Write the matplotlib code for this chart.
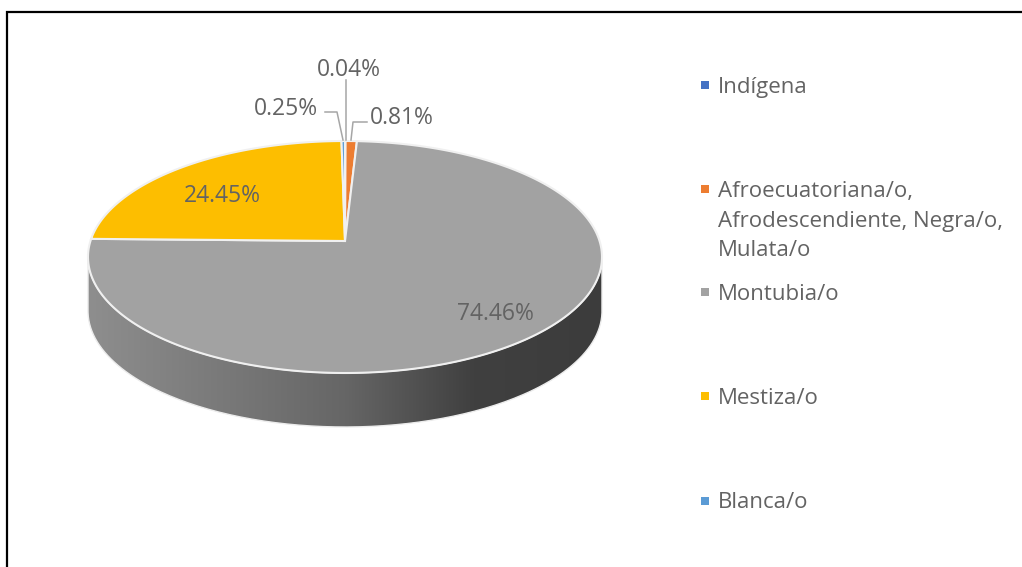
import numpy as np
import matplotlib
matplotlib.use('Agg')
import matplotlib.pyplot as plt
from matplotlib.colors import LinearSegmentedColormap
from matplotlib.path import Path
from matplotlib.patches import PathPatch

plt.rcParams['font.family'] = ['Open Sans', 'DejaVu Sans']

categories = ['Indígena', 'Afroecuatoriana/o,\nAfrodescendiente, Negra/o,\nMulata/o',
              'Montubia/o', 'Mestiza/o', 'Blanca/o']
values = [0.04, 0.81, 74.46, 24.45, 0.25]
colors = ['#4472C4', '#ED7D31', '#A2A2A2', '#FDBE00', '#5B9BD5']

txt = '#636363'
cx, apex_y, depth = 345, 241, 54
y_far, y_near, half_w = 141, 373, 257


def project(theta, r=1.0):
    # tilted disc: unit circle to pixels, near edge bigger than far edge
    u, v = r * np.sin(theta), r * np.cos(theta)
    c = (2 * apex_y - y_far - y_near) / (y_far - y_near)
    a = y_far * (1 + c) - apex_y
    k = half_w * np.sqrt(1 - c ** 2)
    w = 1 + c * v
    return cx + k * u / w, (a * v + apex_y) / w


fig = plt.figure(figsize=(10.22, 5.67), dpi=100)
ax = fig.add_axes([0, 0, 1, 1])

# pie top, clockwise from 12 o'clock
edges = np.r_[0, np.cumsum(values)] / sum(values) * 2 * np.pi
for start, end, col in zip(edges[:-1], edges[1:], colors):
    th = np.linspace(start, end, max(int((end - start) * 80), 4))
    x, y = project(th)
    ax.fill(np.r_[cx, x], np.r_[apex_y, y], facecolor=col, edgecolor='#f0f0f0',
            linewidth=1.5, joinstyle='miter', zorder=3)

# side of the disc
mid_y = (y_far + y_near) / 2
ry = (y_near - y_far) / 2
t = np.linspace(np.pi, 2 * np.pi, 200)
xs = cx + half_w * np.cos(t)
top = mid_y - ry * np.sin(t)
bottom = top + depth
side = Path(np.r_[np.c_[xs, top], np.c_[xs[::-1], bottom[::-1]], [[xs[0], top[0]]]], closed=False)
cmap = LinearSegmentedColormap.from_list('side', [(0, '#8e8e8e'), (0.5, '#666666'), (0.75, '#404040'), (1, '#3c3c3c')])
im = ax.imshow(np.linspace(0, 1, 256)[None, :], cmap=cmap, aspect='auto', zorder=2,
               extent=(cx - half_w, cx + half_w, y_near + depth, mid_y))
patch = PathPatch(side, facecolor='none', edgecolor='#ececec', linewidth=1, zorder=2.5)
ax.add_patch(patch)
im.set_clip_path(patch)

# data labels
pct = [f'{v:.2f}%' for v in values]
ax.text(349, 70, pct[0], color=txt, fontsize=16.5, ha='center', va='center', zorder=5)
ax.text(286, 109, pct[4], color=txt, fontsize=16.5, ha='center', va='center', zorder=5)
ax.text(402, 118, pct[1], color=txt, fontsize=16.5, ha='center', va='center', zorder=5)
ax.text(222, 196, pct[3], color=txt, fontsize=16.5, ha='center', va='center', zorder=5)
ax.text(495, 314, pct[2], color=txt, fontsize=16.5, ha='center', va='center', zorder=5)

# leader lines
ax.plot([346, 346], [80, 140], color='#a6a6a6', lw=1.1, zorder=4)
ax.plot([325, 337, 343], [112, 112, 140], color='#a6a6a6', lw=1.1, zorder=4)
ax.plot([367, 353, 351], [122, 122, 140], color='#a6a6a6', lw=1.1, zorder=4)

# legend
legend_y = [87, 221, 295, 399, 503]
marker_y = [85, 189, 292, 396, 501]
for name, col, ly, my in zip(categories, colors, legend_y, marker_y):
    ax.scatter([704.5], [my], marker='s', s=33, color=col, linewidths=0, zorder=5)
    ax.text(718, ly, name, color=txt, fontsize=16, ha='left', va='center', linespacing=1.5, zorder=5)

# frame of the screenshot, only top and left
ax.plot([7, 7, 1022], [567, 12, 12], color='black', lw=1.6, zorder=6, solid_joinstyle='miter')

ax.set_xlim(0, 1022)
ax.set_ylim(567, 0)
ax.axis('off')

plt.savefig('out.png', dpi=100)
plt.close()
